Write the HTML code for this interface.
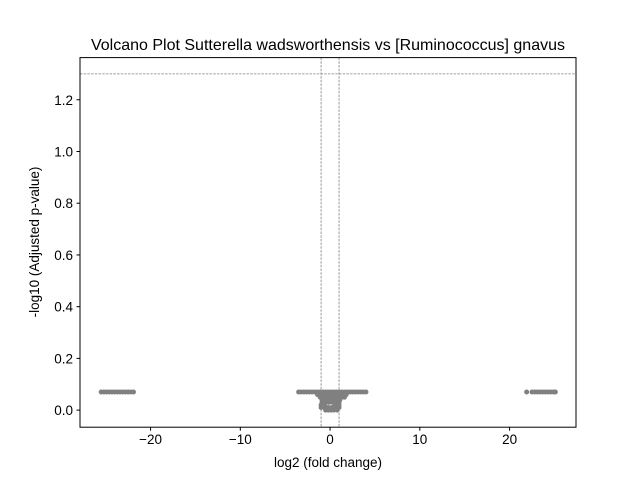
<!DOCTYPE html>
<html><head><meta charset="utf-8"><style>
body{margin:0;background:#fff}
svg{font-family:"Liberation Sans","DejaVu Sans",sans-serif}
</style></head><body>
<svg id="chart" width="640" height="480" xmlns="http://www.w3.org/2000/svg">
<rect width="640" height="480" fill="#fff"/>
<text x="328" y="50" font-size="16" text-anchor="middle">Volcano Plot Sutterella wadsworthensis vs [Ruminococcus] gnavus</text>
<g id="grid"></g>
<g id="marks"></g>
<g id="axes"></g>
<text x="328" y="467" font-size="13.5" text-anchor="middle">log2 (fold change)</text>
<text transform="translate(39,242) rotate(-90)" font-size="13.5" text-anchor="middle">-log10 (Adjusted p-value)</text>
</svg>
<script>
const xTicks=[-20,-10,0,10,20];
const yTicks=[0.0,0.2,0.4,0.6,0.8,1.0,1.2];
const yTickLabels=["0.0","0.2","0.4","0.6","0.8","1.0","1.2"];
const pThreshold=1.3;
const fcThreshold=[-1,1];
const logFC=[-25.5,-25.2,-24.9,-24.6,-24.3,-24.0,-23.7,-23.4,-23.1,-22.8,-22.5,-22.2,-21.9,
21.9,22.5,22.8,23.1,23.4,23.7,24.0,24.3,24.6,24.9,25.1,
-3.5,-3.2,-2.9,-2.6,-2.3,-2.0,-1.7,-1.4,-1.1,-0.8,-0.5,-0.2,0.1,0.4,0.7,1.0,1.3,1.6,1.9,2.2,2.5,2.8,3.1,3.4,3.7,4.0,
-1.4,-1.0,-0.6,-0.2,0.2,0.6,1.0,1.4,1.8,
-1.1,-0.7,-0.3,0.1,0.5,0.9,1.3,1.6,
-0.9,-0.5,-0.1,0.3,0.7,1.1,
-0.9,-0.5,-0.1,0.3,0.7,1.0,
-1.0,-0.6,0.6,1.0,
-1.0,-0.6,-0.2,0.2,0.6,1.0,
-0.5,-0.2,0.1,0.4,0.8];
const negLogP=[0.07,0.07,0.07,0.07,0.07,0.07,0.07,0.07,0.07,0.07,0.07,0.07,0.07,
0.07,0.07,0.07,0.07,0.07,0.07,0.07,0.07,0.07,0.07,0.07,
0.07,0.07,0.07,0.07,0.07,0.07,0.07,0.07,0.07,0.07,0.07,0.07,0.07,0.07,0.07,0.07,0.07,0.07,0.07,0.07,0.07,0.07,0.07,0.07,0.07,0.07,
0.06,0.06,0.06,0.06,0.06,0.06,0.06,0.06,0.06,
0.05,0.05,0.05,0.05,0.05,0.05,0.05,0.05,
0.04,0.04,0.04,0.04,0.04,0.04,
0.03,0.03,0.03,0.03,0.03,0.03,
0.02,0.02,0.02,0.02,
0.01,0.01,0.01,0.01,0.01,0.01,
0.0,0.0,0.0,0.0,0.0];
const L=80,R=576,T=57.6,B=427.2;
const xmin=-27.86,xmax=27.4,ymin=-0.066,ymax=1.363;
const X=v=>L+(v-xmin)/(xmax-xmin)*(R-L);
const Y=v=>B-(v-ymin)/(ymax-ymin)*(B-T);
const NS="http://www.w3.org/2000/svg";
function mk(tag,attrs,parent){const e=document.createElementNS(NS,tag);for(const k in attrs)e.setAttribute(k,attrs[k]);parent.appendChild(e);return e;}
const grid=document.getElementById('grid'),marks=document.getElementById('marks'),axes=document.getElementById('axes');
let h=mk('line',{x1:L,x2:R,y1:Y(pThreshold),y2:Y(pThreshold),stroke:'#808080','stroke-width':0.8,'stroke-dasharray':'2.5,1.2'},grid);


fcThreshold.forEach(v=>{const l=mk('line',{x1:X(v),x2:X(v),y1:T,y2:B,stroke:'#808080','stroke-width':0.8,'stroke-dasharray':'2.5,1.2'},grid);

});
logFC.forEach((v,i)=>{const c=mk('circle',{cx:X(v),cy:Y(negLogP[i]),r:2.5,fill:'#808080'},marks);

});
const fr=mk('rect',{x:L,y:T,width:R-L,height:B-T,fill:'none',stroke:'#000','stroke-width':1},axes);


xTicks.forEach(v=>{const x=X(v);mk('line',{x1:x,x2:x,y1:B,y2:B+3.5,stroke:'#000'},axes);
const t=mk('text',{x:x,y:B+17,'font-size':13.5,'text-anchor':'middle'},axes);t.textContent=(v<0?'\u2212'+(-v):v);

});
yTicks.forEach((v,i)=>{const y=Y(v);mk('line',{x1:L-3.5,x2:L,y1:y,y2:y,stroke:'#000'},axes);
const t=mk('text',{x:L-7,y:y+5,'font-size':13.5,'text-anchor':'end'},axes);t.textContent=yTickLabels[i];

});
</script>
</body></html>
